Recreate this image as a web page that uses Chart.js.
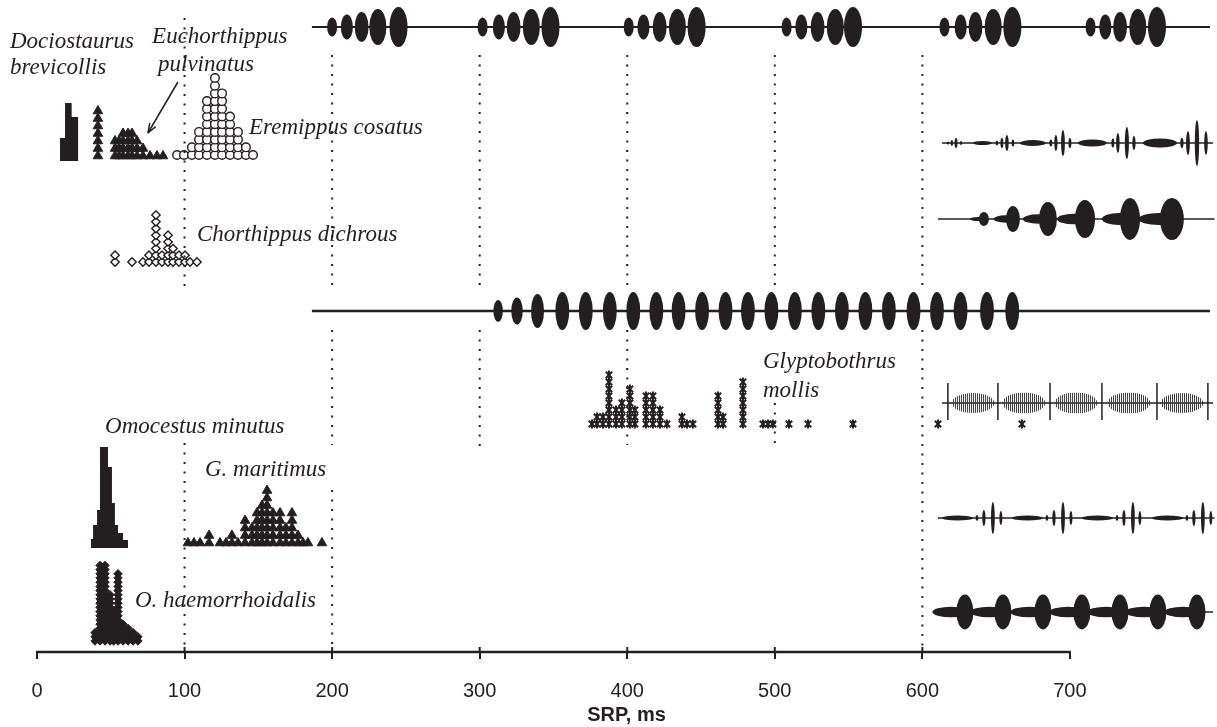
<!DOCTYPE html>
<html>
<head>
<meta charset="utf-8">
<script src="https://cdn.jsdelivr.net/npm/chart.js@4.4.0/dist/chart.umd.min.js"></script>
<style>
  html, body { margin: 0; padding: 0; background: #fff; }
  #wrap { width: 1217px; height: 727px; }
</style>
</head>
<body>
<div id="wrap"><canvas id="srpChart"></canvas></div>
<script>
const ink = "#231f20";

// * SRP distributions (ms) - black histograms: bin edges + heights
const dociEdges = [15.5, 19, 23.5, 28];
const dociHeights = [23, 58, 44];
const omoMinEdges = [36.6, 38, 40.7, 42.7, 48.1, 50.8, 52.8, 54.9, 58.3, 61.7];
const omoMinHeights = [9, 23, 38, 101, 81, 45, 23, 15, 8];

// * SRP distributions - stacked symbols: bin centre (ms) + count
const euchBins = [41.3, 52.9, 55.6, 58.3, 61.7, 64.4, 67.8, 71.8, 76.6, 81.3, 85.4];
const euchCounts = [7, 3, 3, 4, 4, 4, 3, 2, 1, 1, 1];
const eremBins = [94.9, 99.6, 105, 109.8, 115.2, 120.6, 125.4, 130.8, 136.2, 141.6, 146.4];
const eremCounts = [1, 1, 2, 4, 8, 11, 9, 6, 4, 2, 1];
const chorBins = [52.9, 64.4, 71.8, 75.9, 80.6, 84.7, 88.8, 92.2, 96.2, 100.3, 103.7, 108.4];
const chorCounts = [2, 1, 1, 2, 8, 2, 5, 3, 2, 2, 1, 1];
const glypBins = [376.1, 379.5, 383.5, 387.6, 392.4, 396.4, 401.8, 405.2, 412.7, 417.4, 422.2, 426.9,
  437.1, 440.5, 444.5, 461.5, 464.9, 478.4, 492, 495.4, 498.7, 509.6, 522.5, 553, 610.6, 667.5];
const glypCounts = [1, 2, 2, 8, 3, 4, 6, 3, 5, 5, 3, 1, 2, 1, 1, 5, 2, 7, 1, 1, 1, 1, 1, 1, 1, 1];
const gmarBins = [102.3, 106.4, 110.5, 116.6, 124, 128.1, 132.1, 136.2, 141, 145.7, 149.1, 152.5,
  155.9, 159.9, 164.7, 168.7, 172.8, 176.9, 180.3, 183.6, 193.1];
const gmarCounts = [1, 1, 1, 2, 1, 1, 2, 1, 4, 3, 5, 6, 8, 5, 5, 3, 5, 2, 1, 1, 1];
const ohaemBins = [39.3, 42.7, 46.1, 49.5, 52, 54.9, 58.3, 61.7, 65.1, 68.4];
const ohaemCounts = [3, 19, 19, 12, 8, 17, 5, 4, 3, 2];

// * oscillograms: pulse time (ms), half duration (ms), amplitude
const topPulseT = [200, 210, 220, 231, 245, 302, 313, 323, 335, 348, 401, 411, 422, 434, 447,
  508, 518, 529, 541, 553, 615, 626, 636, 648, 661, 714, 724, 734, 746, 759];
const topGroupW = [3.4, 4.1, 4.7, 5.8, 6.1];
const topGroupA = [9.5, 12.5, 15, 18, 20];
const longPulseT = [312.5, 325.3, 339.2, 356, 371.9, 388.2, 404.1, 419.7, 434.8, 450.7, 466.6, 481.8,
  497.7, 513.6, 529.5, 545.5, 561.4, 577.3, 594, 609.9, 625.9, 643.8, 660.9];
const longPulseW = [3.2, 3.9, 4.4, 4.7, 4.7, 4.7, 4.7, 4.7, 4.7, 4.7, 4.7, 4.7, 4.7, 4.7, 4.7, 4.7,
  4.7, 4.7, 4.7, 4.7, 4.7, 4.7, 4.7];
const longPulseA = [11, 13.5, 17, 19, 19, 19, 19, 19, 19, 19, 19, 19, 19, 19, 19, 19, 19, 19, 19,
  19, 19, 19, 19];
const eremT = [617.3, 620, 622.8, 626.2, 640.7, 650.5, 653.9, 657.3, 661.4, 674.9, 687.1, 690.5, 695.3,
  700, 715.2, 729.1, 732.5, 738.6, 743.4, 761, 775.9, 780, 786.1, 792.2];
const eremW = [0.8, 0.9, 1, 0.8, 6.4, 0.9, 1, 1.2, 0.9, 8.8, 1, 1.1, 1.3, 1, 9.8, 1, 1.2, 1.4, 1.1,
  11.5, 1.1, 1.3, 1.5, 1.2];
const eremA = [1.5, 3, 5, 2, 2, 2.5, 5, 8, 3.5, 3, 3.5, 8, 13, 5, 3.5, 4.5, 10, 16, 7, 4.5, 5, 12, 23, 12];
const chorT = [641.7, 661.4, 685.1, 710.2, 740.7, 769.1];
const chorW = [3.4, 4.7, 6.1, 6.8, 6.8, 8.1];
const chorA = [7, 13, 17, 19, 21, 21];
const glypSpikeT = [617.3, 651.2, 686.5, 721.7, 759, 793.5];
const glypEnvT = [634.3, 668.8, 704.1, 740, 775.9];
const glypEnvW = [14.5, 14.5, 14.5, 14.5, 14.5];
const glypEnvA = [10, 10.5, 10.5, 10.5, 10];
const gmarT = [623.8, 637, 641.7, 647.8, 653.2, 671.2, 684.4, 689.2, 695.3, 700.7, 718.6, 731.9, 736.6,
  742.7, 747.4, 766.1, 779.3, 784, 790.1, 795.5];
const gmarW = [10.5, 0.9, 1.1, 1.3, 1, 10.5, 0.9, 1.1, 1.3, 1, 10.5, 0.9, 1.1, 1.3, 1, 10.5, 0.9, 1.1, 1.3, 1];
const gmarA = [2.5, 3, 8, 16, 7, 2.5, 3, 8, 16, 7, 2.5, 3, 8, 16, 7, 2.5, 3, 8, 16, 7];
const ohaemT = [628.8, 654.6, 681.7, 708.1, 733.9, 759.6, 786.1];
const ohaemW = [5.8, 5.8, 5.8, 5.8, 5.8, 5.8, 5.8];
const ohaemA = [17.5, 17.5, 17.5, 17.5, 17.5, 17.5, 17.5];

const xTicks = [0, 100, 200, 300, 400, 500, 600, 700];
const refLines = [100, 200, 300, 400, 500, 600];

// ? helpers to build points
const stackPts = (bins, counts, base, step) => {
  const pts = [];
  bins.forEach((b, i) => {
    for (let k = 0; k < counts[i]; k++) pts.push({ x: b, y: base - k * step });
  });
  return pts;
};
const histPts = (edges, heights, base) => {
  const pts = heights.map((h, i) => ({ x: edges[i], y: base - h }));
  pts.push({ x: edges[edges.length - 1], y: base - heights[heights.length - 1] });
  return pts;
};

// dotted reference lines, broken where labels / waveforms sit
const refSegs = {
  100: [[18, 290], [443, 652]],
  200: [[55, 285], [330, 445], [490, 652]],
  300: [[55, 285], [330, 447]],
  400: [[55, 285], [330, 445]],
  500: [[55, 285], [403, 450]],
  600: [[55, 285], [330, 652]],
};
const refPts = [];
refLines.forEach((v) => {
  refSegs[v].forEach((s) => {
    refPts.push({ x: v, y: s[0] }, { x: v, y: s[1] }, { x: v, y: null });
  });
});

const histSet = (edges, heights, base) => ({
  type: "line",
  data: histPts(edges, heights, base),
  stepped: "before",
  showLine: true,
  borderWidth: 0,
  borderColor: ink,
  backgroundColor: ink,
  pointRadius: 0,
  fill: { value: base },
  clip: false,
});
const stackSet = (pts, style, r, fillCol, bw, rot) => ({
  data: pts,
  pointStyle: style,
  pointRadius: r,
  pointRotation: rot || 0,
  backgroundColor: fillCol,
  borderColor: ink,
  borderWidth: bw,
  clip: false,
});

// * oscillogram drawing
const rows = [
  { y: 27, from: 186.3, to: 794.9, lw: 2 },
  { y: 143, from: 613.3, to: 797, lw: 1.5 },
  { y: 219, from: 610.6, to: 798, lw: 1.5 },
  { y: 311, from: 186.3, to: 794.9, lw: 2.5 },
  { y: 403, from: 613.3, to: 797, lw: 1.5 },
  { y: 518, from: 610.6, to: 798, lw: 1.5 },
  { y: 612, from: 610.6, to: 797, lw: 1.5 },
];

const labels = [
  { t: "Dociostaurus", x: -18.3, y: 48 },
  { t: "brevicollis", x: -18.3, y: 74 },
  { t: "Euchorthippus", x: 78, y: 43 },
  { t: "pulvinatus", x: 82, y: 71 },
  { t: "Eremippus cosatus", x: 143.7, y: 134 },
  { t: "Chorthippus dichrous", x: 108.4, y: 241 },
  { t: "Glyptobothrus", x: 492, y: 368 },
  { t: "mollis", x: 492, y: 397 },
  { t: "Omocestus minutus", x: 46.1, y: 433 },
  { t: "G. maritimus", x: 113.8, y: 476 },
  { t: "O. haemorrhoidalis", x: 66.4, y: 607 },
];

const oscPlugin = {
  id: "osc",
  afterDatasetsDraw(chart) {
    const { ctx, chartArea } = chart;
    const sx = chart.scales.x;
    const sy = chart.scales.y;
    const px = (v) => sx.getPixelForValue(v);
    const py = (v) => sy.getPixelForValue(v);
    const ell = (t, row, w, a) => {
      const cx = px(t), cy = py(row);
      const rx = Math.max(Math.abs(px(t + w) - cx), 0.6);
      const ry = Math.max(Math.abs(py(row + a) - cy), 0.6);
      ctx.beginPath();
      ctx.ellipse(cx, cy, rx, ry, 0, 0, Math.PI * 2);
      ctx.fill();
    };
    ctx.save();
    ctx.strokeStyle = ink;
    ctx.fillStyle = ink;
    // baselines
    rows.forEach((r) => {
      ctx.lineWidth = r.lw;
      ctx.beginPath();
      ctx.moveTo(px(r.from), py(r.y));
      ctx.lineTo(px(r.to), py(r.y));
      ctx.stroke();
    });
    // top row: groups of 5
    topPulseT.forEach((t, i) => ell(t, 27, topGroupW[i % 5], topGroupA[i % 5]));
    // long trill
    longPulseT.forEach((t, i) => ell(t, 311, longPulseW[i], longPulseA[i]));
    // Eremippus
    eremT.forEach((t, i) => ell(t, 143, eremW[i], eremA[i]));
    // Chorthippus bulbs with lead-in
    chorT.forEach((t, i) => {
      ell(t - chorW[i] * 1.1, 219, chorW[i] * 1.7, chorA[i] * 0.28);
      ell(t, 219, chorW[i], chorA[i]);
    });
    // G. maritimus
    gmarT.forEach((t, i) => ell(t, 518, gmarW[i], gmarA[i]));
    // O. haemorrhoidalis
    ohaemT.forEach((t, i) => {
      ell(t - ohaemW[i] * 1.6, 612, ohaemW[i] * 2.2, ohaemA[i] * 0.3);
      ell(t, 612, ohaemW[i], ohaemA[i]);
    });
    // Glyptobothrus: hatched envelopes + spikes
    glypEnvT.forEach((t, i) => {
      const cx = px(t), cy = py(403);
      const rx = Math.abs(px(t + glypEnvW[i]) - cx);
      const ry = Math.abs(py(403 + glypEnvA[i]) - cy);
      ctx.save();
      ctx.beginPath();
      ctx.ellipse(cx, cy, rx, ry, 0, 0, Math.PI * 2);
      ctx.clip();
      ctx.lineWidth = 1;
      ctx.strokeStyle = "#3a3a3a";
      for (let xx = cx - rx; xx <= cx + rx; xx += 2) {
        ctx.beginPath();
        ctx.moveTo(xx, cy - ry);
        ctx.lineTo(xx, cy + ry);
        ctx.stroke();
      }
      ctx.restore();
    });
    ctx.lineWidth = 1.5;
    glypSpikeT.forEach((t) => {
      ctx.beginPath();
      ctx.moveTo(px(t), py(403 - 20));
      ctx.lineTo(px(t), py(403 + 17));
      ctx.stroke();
    });
    // axis line 0..700, ticks poke a little above it
    ctx.lineWidth = 2.5;
    ctx.beginPath();
    ctx.moveTo(px(0) - 1, chartArea.bottom);
    ctx.lineTo(px(700) + 1, chartArea.bottom);
    ctx.stroke();
    ctx.lineWidth = 2;
    xTicks.slice(1, -1).forEach((v) => {
      ctx.beginPath();
      ctx.moveTo(px(v), chartArea.bottom - 5);
      ctx.lineTo(px(v), chartArea.bottom);
      ctx.stroke();
    });
    // arrow
    const ax0 = px(95.5), ay0 = py(82), ax1 = px(75.2), ay1 = py(133);
    ctx.lineWidth = 1.5;
    ctx.beginPath();
    ctx.moveTo(ax0, ay0);
    ctx.lineTo(ax1, ay1);
    ctx.stroke();
    const ang = Math.atan2(ay1 - ay0, ax1 - ax0);
    ctx.beginPath();
    ctx.moveTo(ax1, ay1);
    ctx.lineTo(ax1 - 10 * Math.cos(ang - 0.35), ay1 - 10 * Math.sin(ang - 0.35));
    ctx.moveTo(ax1, ay1);
    ctx.lineTo(ax1 - 10 * Math.cos(ang + 0.35), ay1 - 10 * Math.sin(ang + 0.35));
    ctx.stroke();
    // species labels
    ctx.font = 'italic 23px "Liberation Serif", "Times New Roman", serif';
    ctx.textBaseline = "alphabetic";
    ctx.textAlign = "left";
    labels.forEach((l) => ctx.fillText(l.t, px(l.x), py(l.y)));
    ctx.restore();
  },
};

const srpCanvas = document.getElementById("srpChart").getContext("2d");
const srpChart = new Chart(srpCanvas, {
  type: "scatter",
  data: {
    datasets: [
      {
        type: "line",
        data: refPts,
        showLine: true,
        spanGaps: false,
        borderColor: ink,
        borderWidth: 2,
        borderDash: [2, 7.5],
        pointRadius: 0,
        fill: false,
      },
      histSet(dociEdges, dociHeights, 161),
      histSet(omoMinEdges, omoMinHeights, 548),
      stackSet(stackPts(euchBins, euchCounts, 156, 7.5), "triangle", 5.5, ink, 1),
      stackSet(stackPts(eremBins, eremCounts, 155, 7.7), "circle", 4.3, "#fff", 1.4),
      stackSet(stackPts(chorBins, chorCounts, 262, 6.7), "rectRot", 4.2, "#fff", 1.4),
      stackSet(stackPts(glypBins, glypCounts, 424, 7), "crossRot", 4.5, ink, 2),
      stackSet(stackPts(glypBins, glypCounts, 424, 7), "line", 4.5, ink, 2, 90),
      stackSet(stackPts(gmarBins, gmarCounts, 543, 7.5), "triangle", 5.5, ink, 1),
      stackSet(stackPts(ohaemBins, ohaemCounts, 641, 4.2), "rectRot", 4.2, ink, 1),
    ],
  },
  options: {
    responsive: true,
    maintainAspectRatio: false,
    animation: false,
    events: [],
    layout: { autoPadding: false, padding: { left: 37, right: 1, top: 0, bottom: 0 } },
    plugins: { legend: { display: false }, tooltip: { enabled: false } },
    scales: {
      x: {
        type: "linear",
        min: 0,
        max: 799,
        border: { display: false },
        grid: { drawOnChartArea: false, tickLength: 7, color: ink, lineWidth: 2 },
        afterBuildTicks: (s) => { s.ticks = xTicks.map((v) => ({ value: v })); },
        ticks: {
          color: ink,
          padding: 20,
          maxRotation: 0,
          autoSkip: false,
          font: { family: '"Liberation Sans Narrow", "Arial Narrow", Arial, sans-serif', size: 20 },
        },
        title: {
          display: true,
          text: "SRP, ms",
          color: ink,
          padding: { top: -20, bottom: 0 },
          font: { family: '"Liberation Sans Narrow", Arial, sans-serif', size: 20, weight: "bold" },
        },
      },
      y: { type: "linear", min: 0, max: 652, reverse: true, display: false },
    },
  },
  plugins: [oscPlugin],
});
</script>
</body>
</html>
